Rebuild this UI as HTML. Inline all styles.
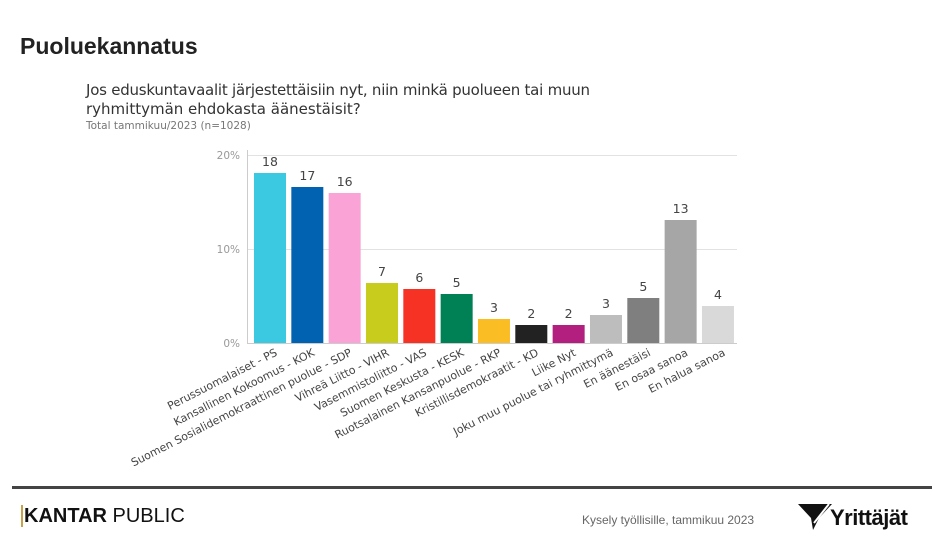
<!DOCTYPE html>
<html><head><meta charset="utf-8"><style>
body{margin:0;width:932px;height:553px;background:#fff;overflow:hidden;font-family:"Liberation Sans","DejaVu Sans",sans-serif}
</style></head><body>
<svg width="932" height="553" xmlns="http://www.w3.org/2000/svg" font-family="'Liberation Sans','DejaVu Sans',sans-serif">
<text x="20" y="54" font-size="23" font-weight="bold" fill="#222">Puoluekannatus</text>
<text x="86" y="95" font-size="15" fill="#333" font-family="'DejaVu Sans',sans-serif" textLength="504">Jos eduskuntavaalit järjestettäisiin nyt, niin minkä puolueen tai muun</text>
<text x="86" y="114" font-size="15" fill="#333" font-family="'DejaVu Sans',sans-serif">ryhmittymän ehdokasta äänestäisit?</text>
<text x="86" y="129" font-size="10.5" fill="#777" font-family="'DejaVu Sans',sans-serif">Total tammikuu/2023 (n=1028)</text>
<g stroke="#e2e2e2" stroke-width="1">
<line x1="248" y1="155.5" x2="737" y2="155.5"/>
<line x1="248" y1="249.5" x2="737" y2="249.5"/>
</g>
<line x1="248" y1="343.5" x2="737" y2="343.5" stroke="#ccc"/>
<line x1="247.5" y1="150" x2="247.5" y2="344" stroke="#ccc"/>
<g font-size="10.5" fill="#999" text-anchor="end" font-family="'DejaVu Sans',sans-serif">
<text x="240" y="159">20%</text><text x="240" y="253">10%</text><text x="240" y="347">0%</text>
</g>
<g id="bars"></g>
</svg>
<script>
const d=[["Perussuomalaiset - PS",18,173,"#3ac9e0"],["Kansallinen Kokoomus - KOK",17,187,"#0062b0"],["Suomen Sosialidemokraattinen puolue - SDP",16,193,"#f9a3d6"],["Vihreä Liitto - VIHR",7,283,"#c8cc1c"],["Vasemmistoliitto - VAS",6,289,"#f53224"],["Suomen Keskusta - KESK",5,294,"#008055"],["Ruotsalainen Kansanpuolue - RKP",3,319,"#fbbd24"],["Kristillisdemokraatit - KD",2,325,"#222222"],["Liike Nyt",2,325,"#b21f7e"],["Joku muu puolue tai ryhmittymä",3,315,"#bdbdbd"],["En äänestäisi",5,298,"#7f7f7f"],["En osaa sanoa",13,220,"#a6a6a6"],["En halua sanoa",4,306,"#d9d9d9"]];
let s="";
d.forEach((e,i)=>{const x=254+i*37.33,c=x+16;
s+=`<rect x="${x}" y="${e[2]}" width="32" height="${343-e[2]}" fill="${e[3]}"/>`;
s+=`<text x="${c}" y="${e[2]-7}" font-size="12.5" fill="#444" text-anchor="middle" font-family="'DejaVu Sans',sans-serif">${e[1]}</text>`;
s+=`<text transform="translate(${c+8},355) rotate(-27)" font-size="11" fill="#444" text-anchor="end" font-family="'DejaVu Sans',sans-serif">${e[0]}</text>`;});
document.getElementById("bars").outerHTML=s;
</script>
<div style="position:absolute;left:12px;top:486px;width:920px;height:3px;background:#444"></div>
<div style="position:absolute;left:21px;top:505px;font-size:20px;color:#111;letter-spacing:0px"><span style="border-left:2px solid #c8a24a;padding-left:1px;font-weight:600">KANTAR</span> PUBLIC</div>
<div style="position:absolute;left:582px;top:513px;font-size:12px;color:#666">Kysely työllisille, tammikuu 2023</div>
<svg style="position:absolute;left:798px;top:502px" width="36" height="30"><polygon points="0,2 34,2 21,16 15,28 13,16" fill="#111"/><line x1="20" y1="25" x2="36" y2="3" stroke="#fff" stroke-width="2"/><line x1="16" y1="21" x2="31" y2="2" stroke="#fff" stroke-width="2"/></svg>
<div style="position:absolute;left:830px;top:505px;font-size:22px;font-weight:bold;color:#111;letter-spacing:-0.5px">Yrittäjät</div>
</body></html>
